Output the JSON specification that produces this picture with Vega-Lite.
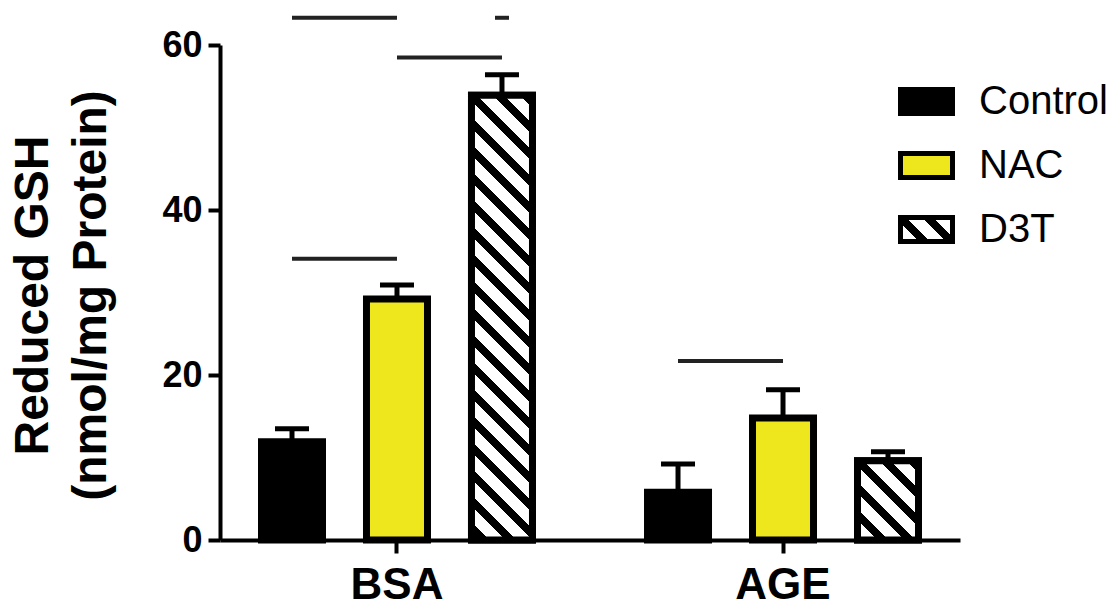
{
  "$schema": "https://vega.github.io/schema/vega-lite/v6.json",
  "autosize": "none",
  "width": 740,
  "height": 495,
  "padding": {"left": 220, "top": 45, "right": 155, "bottom": 67},
  "background": "white",
  "config": {"view": {"stroke": null}, "font": "Liberation Sans"},
  "datasets": {
    "bars": [
      {"group": "BSA", "treatment": "Control", "mean": 11.9, "upper": 13.5},
      {"group": "BSA", "treatment": "NAC", "mean": 29.2, "upper": 30.9},
      {"group": "BSA", "treatment": "D3T", "mean": 53.9, "upper": 56.4},
      {"group": "AGE", "treatment": "Control", "mean": 5.8, "upper": 9.2},
      {"group": "AGE", "treatment": "NAC", "mean": 14.8, "upper": 18.2},
      {"group": "AGE", "treatment": "D3T", "mean": 9.6, "upper": 10.7}
    ],
    "sig": [
      {"comp": "s1", "group": "BSA", "treatment": "Control", "y": 34.1},
      {"comp": "s1", "group": "BSA", "treatment": "NAC", "y": 34.1},
      {"comp": "s2", "group": "AGE", "treatment": "Control", "y": 21.7},
      {"comp": "s2", "group": "AGE", "treatment": "NAC", "y": 21.7},
      {"comp": "s3", "group": "BSA", "treatment": "Control", "y": 63.3},
      {"comp": "s3", "group": "BSA", "treatment": "NAC", "y": 63.3},
      {"comp": "s4", "group": "BSA", "treatment": "NAC", "y": 58.5},
      {"comp": "s4", "group": "BSA", "treatment": "D3T", "y": 58.5}
    ],
    "dash": [
      {"group": "BSA", "treatment": "D3T", "y": 63.3}
    ]
  },
  "encoding": {
    "x": {
      "field": "group", "type": "nominal",
      "scale": {"domain": ["BSA", "AGE"], "paddingInner": 0.298, "paddingOuter": 0.1075},
      "axis": {
        "title": null, "labelAngle": 0, "labelFontSize": 44, "labelFontWeight": "bold",
        "labelColor": "black", "labelFont": "Liberation Sans", "labelPadding": 10,
        "tickSize": 13, "tickWidth": 4, "tickColor": "black", "domainWidth": 4,
        "domainColor": "black", "bandPosition": 0.5, "grid": false
      }
    },
    "xOffset": {
      "field": "treatment", "type": "nominal",
      "scale": {"domain": ["Control", "NAC", "D3T"], "paddingInner": 0.419, "paddingOuter": 0}
    }
  },
  "layer": [
    {
      "data": {"name": "bars"},
      "mark": {"type": "bar", "stroke": "black", "strokeWidth": 7},
      "encoding": {
        "y": {
          "field": "mean", "type": "quantitative",
          "scale": {"domain": [0, 60], "nice": false},
          "axis": {
            "values": [0, 20, 40, 60], "grid": false,
            "labelFontSize": 36, "labelFontWeight": "bold", "labelColor": "black",
            "labelFont": "Liberation Sans", "labelPadding": 6,
            "tickSize": 12, "tickWidth": 4, "tickColor": "black",
            "domainWidth": 4, "domainColor": "black",
            "title": ["Reduced GSH", "(nmol/mg Protein)"],
            "titleFontSize": 48, "titleFontWeight": "bold", "titleColor": "black",
            "titleFont": "Liberation Sans", "titleLineHeight": 58,
            "titleAngle": -90, "titleAlign": "center", "titleBaseline": "middle",
            "titleX": -187, "titleY": 250
          }
        },
        "fill": {
          "field": "treatment", "type": "nominal",
          "scale": {
            "domain": ["Control", "NAC", "D3T"],
            "range": [
              "#000000",
              "#efe71d",
              {"expr": "{gradient: 'linear', x1: 0, y1: 1, x2: 1.2049, y2: 0.4439, stops: [{offset: 0, color: '#000'}, {offset: 0.0342, color: '#000'}, {offset: 0.0342, color: '#fff'}, {offset: 0.2421, color: '#fff'}, {offset: 0.2421, color: '#000'}, {offset: 0.3895, color: '#000'}, {offset: 0.3895, color: '#fff'}, {offset: 0.5974, color: '#fff'}, {offset: 0.5974, color: '#000'}, {offset: 0.7447, color: '#000'}, {offset: 0.7447, color: '#fff'}, {offset: 0.9421, color: '#fff'}, {offset: 0.9421, color: '#000'}, {offset: 1, color: '#000'}]}"}
            ]
          },
          "legend": {
            "title": null, "orient": "none", "legendX": 678, "legendY": 28,
            "padding": 0, "offset": 0,
            "symbolType": "M-1,-0.46H1V0.46H-1Z", "symbolSize": 2704,
            "symbolStrokeColor": "black", "symbolStrokeWidth": 5, "symbolOpacity": 1,
            "labelFontSize": 40, "labelFont": "Liberation Sans", "labelColor": "black",
            "labelOffset": 24, "rowPadding": 13,
            "encode": {
              "symbols": {
                "update": {
                  "stroke": {"value": "black"},
                  "strokeWidth": {"value": 5},
                  "opacity": {"value": 1}
                }
              }
            }
          }
        }
      }
    },
    {
      "data": {"name": "bars"},
      "transform": [{"filter": "datum.group === 'BSA' && datum.treatment === 'D3T'"}],
      "mark": {
        "type": "bar", "stroke": "black", "strokeWidth": 7,
        "fill": {"gradient": "linear", "x1": 0, "y1": 1, "x2": 0.1531, "y2": -0.1162,
          "stops": [
            {"offset": 0, "color": "#fff"},
            {"offset": 0.0140, "color": "#fff"}, {"offset": 0.0140, "color": "#000"}, {"offset": 0.0362, "color": "#000"}, {"offset": 0.0362, "color": "#fff"},
            {"offset": 0.0674, "color": "#fff"}, {"offset": 0.0674, "color": "#000"}, {"offset": 0.0896, "color": "#000"}, {"offset": 0.0896, "color": "#fff"},
            {"offset": 0.1208, "color": "#fff"}, {"offset": 0.1208, "color": "#000"}, {"offset": 0.1430, "color": "#000"}, {"offset": 0.1430, "color": "#fff"},
            {"offset": 0.1742, "color": "#fff"}, {"offset": 0.1742, "color": "#000"}, {"offset": 0.1964, "color": "#000"}, {"offset": 0.1964, "color": "#fff"},
            {"offset": 0.2276, "color": "#fff"}, {"offset": 0.2276, "color": "#000"}, {"offset": 0.2498, "color": "#000"}, {"offset": 0.2498, "color": "#fff"},
            {"offset": 0.2810, "color": "#fff"}, {"offset": 0.2810, "color": "#000"}, {"offset": 0.3032, "color": "#000"}, {"offset": 0.3032, "color": "#fff"},
            {"offset": 0.3344, "color": "#fff"}, {"offset": 0.3344, "color": "#000"}, {"offset": 0.3566, "color": "#000"}, {"offset": 0.3566, "color": "#fff"},
            {"offset": 0.3878, "color": "#fff"}, {"offset": 0.3878, "color": "#000"}, {"offset": 0.4100, "color": "#000"}, {"offset": 0.4100, "color": "#fff"},
            {"offset": 0.4412, "color": "#fff"}, {"offset": 0.4412, "color": "#000"}, {"offset": 0.4634, "color": "#000"}, {"offset": 0.4634, "color": "#fff"},
            {"offset": 0.4946, "color": "#fff"}, {"offset": 0.4946, "color": "#000"}, {"offset": 0.5168, "color": "#000"}, {"offset": 0.5168, "color": "#fff"},
            {"offset": 0.5480, "color": "#fff"}, {"offset": 0.5480, "color": "#000"}, {"offset": 0.5702, "color": "#000"}, {"offset": 0.5702, "color": "#fff"},
            {"offset": 0.6013, "color": "#fff"}, {"offset": 0.6013, "color": "#000"}, {"offset": 0.6235, "color": "#000"}, {"offset": 0.6235, "color": "#fff"},
            {"offset": 0.6547, "color": "#fff"}, {"offset": 0.6547, "color": "#000"}, {"offset": 0.6769, "color": "#000"}, {"offset": 0.6769, "color": "#fff"},
            {"offset": 0.7081, "color": "#fff"}, {"offset": 0.7081, "color": "#000"}, {"offset": 0.7303, "color": "#000"}, {"offset": 0.7303, "color": "#fff"},
            {"offset": 0.7615, "color": "#fff"}, {"offset": 0.7615, "color": "#000"}, {"offset": 0.7837, "color": "#000"}, {"offset": 0.7837, "color": "#fff"},
            {"offset": 0.8149, "color": "#fff"}, {"offset": 0.8149, "color": "#000"}, {"offset": 0.8371, "color": "#000"}, {"offset": 0.8371, "color": "#fff"},
            {"offset": 0.8683, "color": "#fff"}, {"offset": 0.8683, "color": "#000"}, {"offset": 0.8905, "color": "#000"}, {"offset": 0.8905, "color": "#fff"},
            {"offset": 0.9217, "color": "#fff"}, {"offset": 0.9217, "color": "#000"}, {"offset": 0.9439, "color": "#000"}, {"offset": 0.9439, "color": "#fff"},
            {"offset": 0.9751, "color": "#fff"}, {"offset": 0.9751, "color": "#000"}, {"offset": 0.9973, "color": "#000"}, {"offset": 0.9973, "color": "#fff"},
            {"offset": 1, "color": "#fff"}
          ]}
      },
      "encoding": {"y": {"field": "mean", "type": "quantitative"}}
    },
    {
      "data": {"name": "bars"},
      "transform": [{"filter": "datum.group === 'AGE' && datum.treatment === 'D3T'"}],
      "mark": {
        "type": "bar", "stroke": "black", "strokeWidth": 7,
        "fill": {"gradient": "linear", "x1": 0, "y1": 1, "x2": 0.8558, "y2": -0.1111,
          "stops": [
            {"offset": 0, "color": "#000"}, {"offset": 0.0271, "color": "#000"}, {"offset": 0.0271, "color": "#fff"},
            {"offset": 0.1398, "color": "#fff"}, {"offset": 0.1398, "color": "#000"}, {"offset": 0.2197, "color": "#000"}, {"offset": 0.2197, "color": "#fff"},
            {"offset": 0.3324, "color": "#fff"}, {"offset": 0.3324, "color": "#000"}, {"offset": 0.4123, "color": "#000"}, {"offset": 0.4123, "color": "#fff"},
            {"offset": 0.5250, "color": "#fff"}, {"offset": 0.5250, "color": "#000"}, {"offset": 0.6049, "color": "#000"}, {"offset": 0.6049, "color": "#fff"},
            {"offset": 0.7175, "color": "#fff"}, {"offset": 0.7175, "color": "#000"}, {"offset": 0.7974, "color": "#000"}, {"offset": 0.7974, "color": "#fff"},
            {"offset": 0.9101, "color": "#fff"}, {"offset": 0.9101, "color": "#000"}, {"offset": 0.9900, "color": "#000"}, {"offset": 0.9900, "color": "#fff"},
            {"offset": 1, "color": "#fff"}
          ]}
      },
      "encoding": {"y": {"field": "mean", "type": "quantitative"}}
    },
    {
      "data": {"name": "bars"},
      "mark": {"type": "rule", "color": "black", "strokeWidth": 5},
      "encoding": {
        "y": {"field": "mean", "type": "quantitative"},
        "y2": {"field": "upper"}
      }
    },
    {
      "data": {"name": "bars"},
      "mark": {"type": "tick", "color": "black", "size": 34, "thickness": 5, "opacity": 1, "orient": "horizontal"},
      "encoding": {
        "y": {"field": "upper", "type": "quantitative"}
      }
    },
    {
      "data": {"name": "sig"},
      "mark": {"type": "line", "color": "#222", "strokeWidth": 4},
      "encoding": {
        "y": {"field": "y", "type": "quantitative"},
        "detail": {"field": "comp", "type": "nominal"}
      }
    },
    {
      "data": {"name": "dash"},
      "mark": {"type": "tick", "color": "#222", "size": 14, "thickness": 4, "opacity": 1, "orient": "horizontal"},
      "encoding": {
        "y": {"field": "y", "type": "quantitative"}
      }
    }
  ]
}
